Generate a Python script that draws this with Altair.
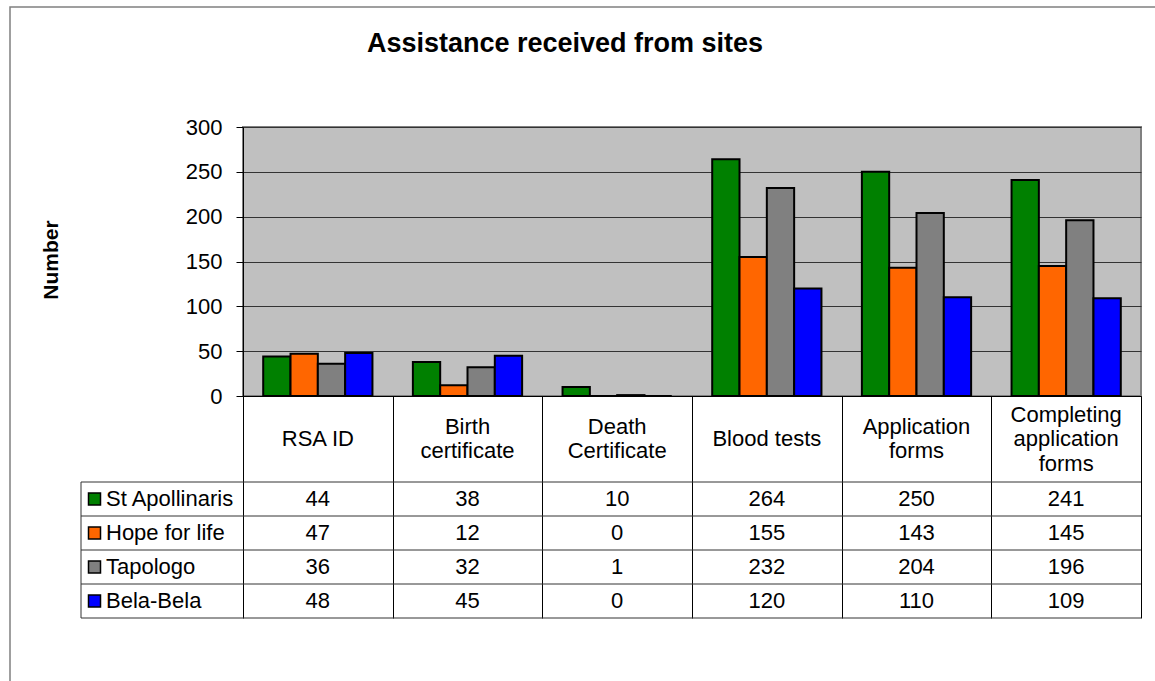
import altair as alt
import pandas as pd

# ---------------- data ----------------
categories = ["RSA ID", "Birth certificate", "Death Certificate", "Blood tests",
              "Application forms", "Completing application forms"]
header_labels = ["RSA ID", "Birth\ncertificate", "Death\nCertificate", "Blood tests",
                 "Application\nforms", "Completing\napplication\nforms"]
sites = ["St Apollinaris", "Hope for life", "Tapologo", "Bela-Bela"]
st_apollinaris = [44, 38, 10, 264, 250, 241]
hope_for_life = [47, 12, 0, 155, 143, 145]
tapologo = [36, 32, 1, 232, 204, 196]
bela_bela = [48, 45, 0, 120, 110, 109]
colors = ["#008000", "#FF6600", "#808080", "#0000FF"]
y_ticks = [0, 50, 100, 150, 200, 250, 300]
TITLE = "Assistance received from sites"
Y_TITLE = "Number"

# ---------------- layout ----------------
W, H = 898, 269
HEADER_H = 86
ROW_H = 34
LINE_H = 24.5
TABLE_BOTTOM = H + HEADER_H + 4 * ROW_H
FONT = "Liberation Sans"

rows = []
for s, vals in zip(sites, [st_apollinaris, hope_for_life, tapologo, bela_bela]):
    for c, v in zip(categories, vals):
        rows.append({"category": c, "site": s, "value": v})
df = pd.DataFrame(rows)
cat_df = pd.DataFrame({"category": categories, "label": header_labels})
site_df = pd.DataFrame({"site": sites})

x_scale = alt.Scale(domain=categories, paddingInner=0, paddingOuter=0)
color_scale = alt.Scale(domain=sites, range=colors)
row_scale = alt.Scale(type="band", domain=sites, range=[H + HEADER_H, TABLE_BOTTOM],
                      paddingInner=0, paddingOuter=0)

bars = alt.Chart(df).mark_bar(stroke="black", strokeWidth=2).encode(
    x=alt.X("category:N", scale=x_scale,
            axis=alt.Axis(title=None, labels=False, tickBand="extent", tickSize=TABLE_BOTTOM - H,
                          tickColor="black", tickWidth=1, domainColor="black", domainWidth=1,
                          grid=False)),
    xOffset=alt.XOffset("site:N", scale=alt.Scale(domain=sites, paddingInner=0, paddingOuter=0.74)),
    y=alt.Y("value:Q", scale=alt.Scale(domain=[0, 300], nice=False),
            axis=alt.Axis(title=None, values=y_ticks, grid=True, gridColor="#333333", gridWidth=1,
                          labelFont=FONT, labelFontSize=22, labelColor="black", labelPadding=14,
                          tickSize=7, tickColor="black", domainColor="black")),
    color=alt.Color("site:N", scale=color_scale, legend=None),
)

# header labels: block of lines centred vertically in the header row
header = alt.Chart(cat_df).transform_calculate(
    nlines="length(split(datum.label, '\\n'))"
).transform_calculate(
    ypos=f"{H + HEADER_H / 2} - (datum.nlines - 1) * {LINE_H / 2}"
).mark_text(font=FONT, fontSize=22, lineBreak="\n", lineHeight=LINE_H,
            baseline="middle", align="center", color="black").encode(
    x=alt.X("category:N", scale=x_scale, title=None),
    y=alt.Y("ypos:Q", scale=None, axis=None),
    text="label:N",
)

values = alt.Chart(df).mark_text(font=FONT, fontSize=22, color="black", baseline="middle").encode(
    x=alt.X("category:N", scale=x_scale, title=None),
    y=alt.Y("site:N", scale=row_scale, axis=None),
    text="value:Q",
)

row_lines = alt.Chart(site_df).mark_rule(color="#333333", strokeWidth=1).encode(
    y=alt.Y("site:N", scale=row_scale, axis=None, bandPosition=0),
    x=alt.value(-162), x2=alt.value(W),
)
bottom_line = alt.Chart(site_df.head(1)).mark_rule(color="#333333", strokeWidth=1).encode(
    y=alt.value(TABLE_BOTTOM), x=alt.value(-162), x2=alt.value(W),
)
left_line = alt.Chart(site_df.head(1)).mark_rule(color="#333333", strokeWidth=1).encode(
    x=alt.value(-162), y=alt.value(H + HEADER_H), y2=alt.value(TABLE_BOTTOM),
)

legend_sq = alt.Chart(site_df).mark_square(size=144, stroke="black", strokeWidth=1.5,
                                           opacity=1, filled=True).encode(
    x=alt.value(-148.5),
    y=alt.Y("site:N", scale=row_scale, axis=None),
    color=alt.Color("site:N", scale=color_scale, legend=None),
)
legend_txt = alt.Chart(site_df).mark_text(font=FONT, fontSize=22, align="left", baseline="middle",
                                          color="black").encode(
    x=alt.value(-137),
    y=alt.Y("site:N", scale=row_scale, axis=None),
    text="site:N",
)

title = alt.Chart(pd.DataFrame({"t": [TITLE]})).mark_text(
    font=FONT, fontSize=27, fontWeight="bold", align="center", baseline="alphabetic", color="black"
).encode(x=alt.value(322), y=alt.value(-75), text="t:N")

ytitle = alt.Chart(pd.DataFrame({"t": [Y_TITLE]})).mark_text(
    font=FONT, fontSize=21, fontWeight="bold", align="center", baseline="middle", angle=270,
    color="black"
).encode(x=alt.value(-191), y=alt.value(133), text="t:N")

border = alt.Chart(pd.DataFrame({"t": [0]})).mark_rect(
    fillOpacity=0, stroke="#808080", strokeWidth=1.5
).encode(x=alt.value(-233), x2=alt.value(W + 60), y=alt.value(-120), y2=alt.value(H + 340))

chart = alt.layer(
    border, bars, header, row_lines, bottom_line, left_line, values, legend_sq, legend_txt,
    title, ytitle
).resolve_scale(y="independent").properties(
    width=W, height=H,
    background="white",
    autosize=alt.AutoSizeParams(type="none"),
    padding={"left": 243, "top": 127, "right": 14, "bottom": 285},
).configure_view(
    stroke="#808080", strokeWidth=2, fill="#C0C0C0"
)

chart.save("out.html", embed_options={"renderer": "svg", "actions": False})
